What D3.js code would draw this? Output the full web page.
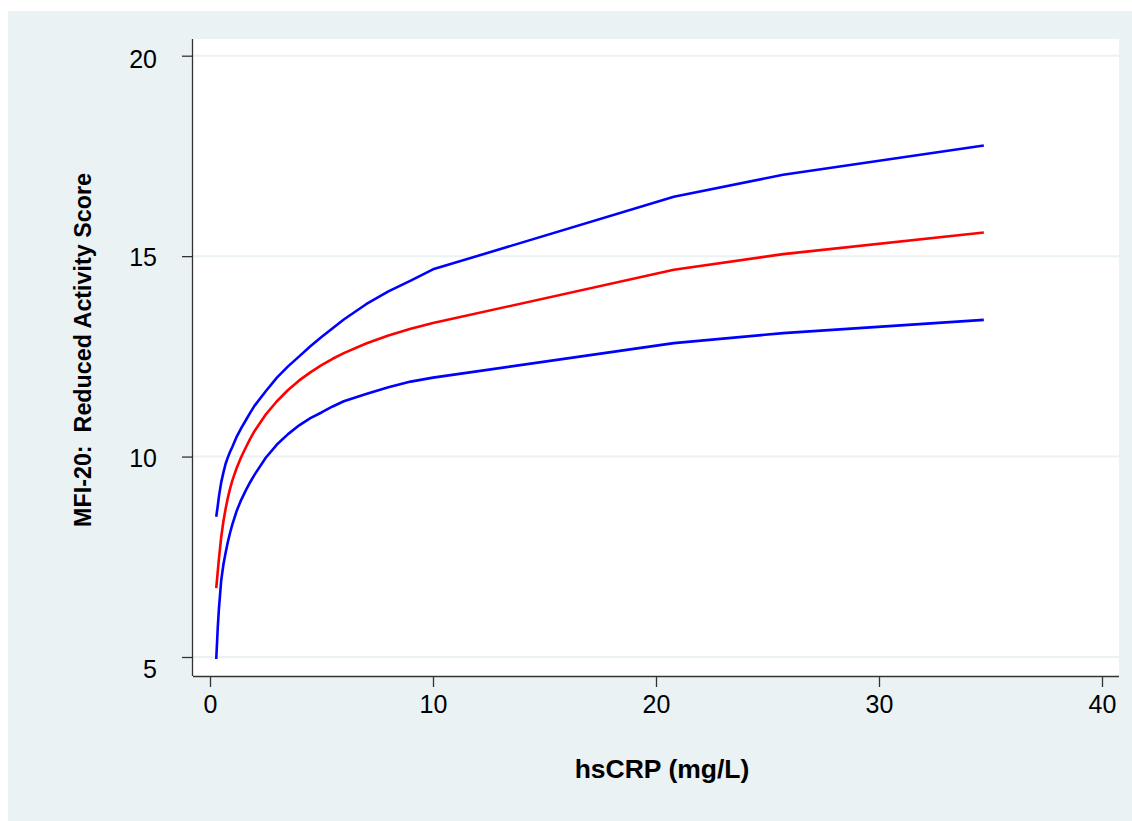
<!DOCTYPE html>
<html>
<head>
<meta charset="utf-8">
<script src="https://cdn.jsdelivr.net/npm/d3@7"></script>
<style>
  html, body { margin: 0; padding: 0; background: #ffffff; }
  svg { display: block; }
  text { font-family: "Liberation Sans", Arial, Helvetica, sans-serif; fill: #000; }
</style>
</head>
<body>
<svg id="chart" width="1132" height="821"></svg>
<script>
// ---- Data ----
const hsCRP = [0.28, 0.35, 0.4, 0.5, 0.6, 0.7, 0.8, 0.9, 1.0, 1.2, 1.4, 1.6, 1.8, 2.0, 2.5, 3.0, 3.5, 4.0, 4.5, 5.0, 5.5, 6.0, 7.0, 8.0, 9.0, 10.0, 20.8, 25.7, 34.7];
const upperCI = [8.5, 8.78, 9.0, 9.35, 9.6, 9.82, 9.98, 10.12, 10.24, 10.5, 10.71, 10.9, 11.09, 11.27, 11.63, 11.97, 12.25, 12.5, 12.75, 12.98, 13.2, 13.42, 13.8, 14.12, 14.39, 14.67, 16.48, 17.03, 17.76];
const fitted  = [6.72, 7.15, 7.45, 7.98, 8.38, 8.7, 8.97, 9.2, 9.4, 9.72, 9.99, 10.22, 10.44, 10.64, 11.05, 11.38, 11.66, 11.9, 12.1, 12.28, 12.44, 12.58, 12.82, 13.02, 13.19, 13.33, 14.66, 15.05, 15.59];
const lowerCI = [4.95, 5.75, 6.2, 6.9, 7.3, 7.6, 7.87, 8.1, 8.3, 8.65, 8.92, 9.15, 9.36, 9.55, 9.97, 10.3, 10.56, 10.78, 10.96, 11.1, 11.25, 11.38, 11.56, 11.73, 11.87, 11.97, 12.83, 13.08, 13.41];
const xTicks = [0, 10, 20, 30, 40];
const yTicks = [5, 10, 15, 20];
const xTitle = "hsCRP (mg/L)";
const yTitle = "MFI-20:  Reduced Activity Score";

// ---- Layout ----
const svg = d3.select("#chart");
const W = 1132, H = 821;
const plot = { left: 193, right: 1119, top: 39, bottom: 676 };

svg.append("rect").attr("x", 8).attr("y", 11).attr("width", W - 8).attr("height", H - 11).attr("fill", "#EAF2F3");
svg.append("rect").attr("x", plot.left).attr("y", plot.top)
  .attr("width", plot.right - plot.left).attr("height", plot.bottom - plot.top).attr("fill", "#ffffff");

const x = d3.scaleLinear().domain([0, 40]).range([210, 1102]);
const y = d3.scaleLinear().domain([5, 20]).range([657, 55.7]);

// gridlines
svg.append("g").selectAll("line").data(yTicks).join("line")
  .attr("x1", plot.left).attr("x2", plot.right)
  .attr("y1", d => y(d)).attr("y2", d => y(d))
  .attr("stroke", "#EAF2F3").attr("stroke-width", 2);

// lines
const line = d3.line().x(d => x(d[0])).y(d => y(d[1]));
const series = [
  { vals: upperCI, color: "#0000FF" },
  { vals: lowerCI, color: "#0000FF" },
  { vals: fitted, color: "#FF0000" }
];
series.forEach(s => {
  svg.append("path").datum(hsCRP.map((v, i) => [v, s.vals[i]]))
    .attr("d", line).attr("fill", "none").attr("stroke", s.color)
    .attr("stroke-width", 2.6).attr("stroke-linejoin", "round");
});

// axes
const xAxis = d3.axisBottom(x).tickValues(xTicks).tickSize(11).tickPadding(8).tickFormat(d3.format("d"));
const gx = svg.append("g").attr("transform", `translate(0,${plot.bottom})`).call(xAxis);
gx.select(".domain").attr("d", `M${plot.left},0.5H${plot.right}`).attr("stroke", "#333").attr("stroke-width", 1.3);
gx.selectAll(".tick line").attr("stroke", "#333").attr("stroke-width", 1.3);
gx.selectAll(".tick text").attr("font-size", 25).attr("font-family", "Liberation Sans, Arial, sans-serif").attr("fill", "#000");

const yAxis = d3.axisLeft(y).tickValues(yTicks).tickSize(11).tickPadding(25).tickFormat(d3.format("d"));
const gy = svg.append("g").attr("transform", `translate(${plot.left},0)`).call(yAxis);
gy.select(".domain").attr("d", `M-0.5,${plot.top}V${plot.bottom}`).attr("stroke", "#333").attr("stroke-width", 1.3);
gy.selectAll(".tick line").attr("stroke", "#333").attr("stroke-width", 1.3);
gy.selectAll(".tick text").attr("font-size", 25).attr("font-family", "Liberation Sans, Arial, sans-serif").attr("fill", "#000")
  .attr("dy", d => d === 5 ? "0.8em" : (d === 20 ? "0.48em" : "0.38em"));

// titles
svg.append("text").attr("x", 662).attr("y", 778).attr("text-anchor", "middle")
  .attr("font-size", 26.5).attr("font-weight", "bold").text(xTitle);
svg.append("text").attr("transform", "translate(91,350) rotate(-90)").attr("text-anchor", "middle")
  .attr("font-size", 23.3).attr("font-weight", "bold").attr("xml:space", "preserve").style("white-space", "pre").text(yTitle);
</script>
</body>
</html>
